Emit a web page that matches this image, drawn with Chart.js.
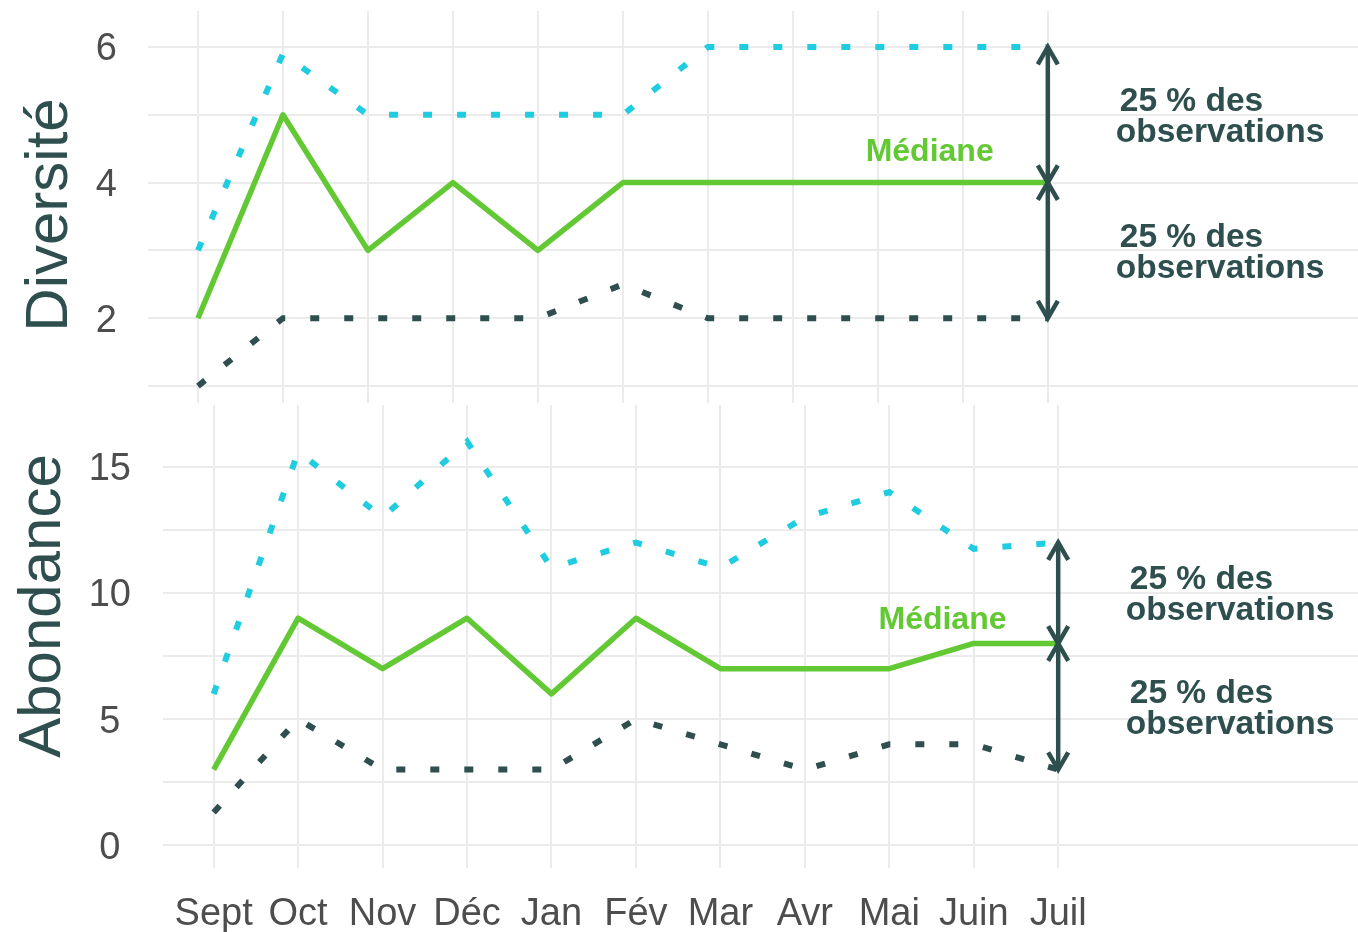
<!DOCTYPE html>
<html lang="fr">
<head>
<meta charset="utf-8">
<title>Diversité et abondance</title>
<script src="https://cdn.jsdelivr.net/npm/chart.js@4.4.1/dist/chart.umd.min.js"></script>
<style>
  html, body { margin: 0; padding: 0; background: #ffffff; }
  #wrap { position: relative; width: 1358px; height: 932px; }
  canvas { position: absolute; left: 0; }
  #diversiteChart { top: 0; }
  #abondanceChart { top: 405px; }
</style>
</head>
<body>
<div id="wrap">
  <canvas id="diversiteChart" width="1358" height="405"></canvas>
  <canvas id="abondanceChart" width="1358" height="527"></canvas>
</div>
<script>
// données
const mois = ['Sept', 'Oct', 'Nov', 'Déc', 'Jan', 'Fév', 'Mar', 'Avr', 'Mai', 'Juin', 'Juil'];

const diversiteMediane = [2, 5, 3, 4, 3, 4, 4, 4, 4, 4, 4];
const diversiteHaut = [3, 5.9, 5, 5, 5, 5, 6, 6, 6, 6, 6];
const diversiteBas = [1, 2, 2, 2, 2, 2.5, 2, 2, 2, 2, 2];
const diversiteTicks = [2, 4, 6];
const diversiteGrille = [1, 2, 3, 4, 5, 6];

const abondanceMediane = [3, 9, 7, 9, 6, 9, 7, 7, 7, 8, 8];
const abondanceHaut = [6, 15.6, 13, 16, 11, 12, 11, 13, 14, 11.75, 12];
const abondanceBas = [1.3, 5, 3, 3, 3, 5, 4, 3, 4, 4, 3];
const abondanceTicks = [0, 5, 10, 15];
const abondanceGrille = [0, 2.5, 5, 7.5, 10, 12.5, 15];

const vert = '#62C934';
const cyan = '#20CCDF';
const ardoise = '#2F4F4F';
const gris = '#4D4D4D';
const grille = '#EBEBEB';
const police = '"Liberation Sans", Arial, sans-serif';

Chart.defaults.font.family = police;

function points(values) {
  return values.map((v, i) => ({ x: i, y: v }));
}

function doubleFleche(ctx, x, y1, y2) {
  const L = 20;
  const dx = L * Math.sin(Math.PI / 6);
  const dy = L * Math.cos(Math.PI / 6);
  ctx.beginPath();
  ctx.moveTo(x, y1);
  ctx.lineTo(x, y2);
  ctx.stroke();
  [[y1, Math.sign(y2 - y1)], [y2, Math.sign(y1 - y2)]].forEach(([yt, d]) => {
    ctx.beginPath();
    ctx.moveTo(x - dx, yt + d * dy);
    ctx.lineTo(x, yt);
    ctx.lineTo(x + dx, yt + d * dy);
    ctx.stroke();
  });
}

function annotationsPlugin(cfg) {
  return {
    id: 'annotations',
    afterDatasetsDraw(chart) {
      const { ctx, scales: { x, y } } = chart;
      const i = mois.length - 1;
      const px = x.getPixelForValue(i);
      const yHaut = y.getPixelForValue(cfg.haut[i]);
      const yMed = y.getPixelForValue(cfg.med[i]);
      const yBas = y.getPixelForValue(cfg.bas[i]);

      ctx.save();
      ctx.strokeStyle = ardoise;
      ctx.lineWidth = 4.5;
      ctx.lineCap = 'butt';
      ctx.lineJoin = 'miter';
      doubleFleche(ctx, px, yHaut, yMed);
      doubleFleche(ctx, px, yMed, yBas);

      ctx.font = 'bold 33.5px ' + police;
      ctx.fillStyle = ardoise;
      ctx.textAlign = 'left';
      ctx.textBaseline = 'middle';
      const tx = x.getPixelForValue(i + 0.8);
      [[cfg.haut[i], cfg.med[i]], [cfg.med[i], cfg.bas[i]]].forEach(([a, b]) => {
        const cy = y.getPixelForValue((a + b) / 2) + 2.5;
        ctx.fillText('25 % des', tx + 4, cy - 15.5);
        ctx.fillText('observations', tx, cy + 15.5);
      });

      ctx.font = 'bold 32px ' + police;
      ctx.fillStyle = vert;
      ctx.textAlign = 'center';
      ctx.fillText('Médiane', x.getPixelForValue(cfg.medianeX), y.getPixelForValue(cfg.medianeY));

      // titre de l'axe y
      ctx.translate(cfg.titreX, cfg.titreY);
      ctx.rotate(-Math.PI / 2);
      ctx.font = '60px ' + police;
      ctx.fillStyle = ardoise;
      ctx.textBaseline = 'alphabetic';
      ctx.fillText(cfg.titre, 0, 0);
      ctx.restore();
    }
  };
}

function panneau(canvasId, cfg) {
  const ctx = document.getElementById(canvasId).getContext('2d');
  return new Chart(ctx, {
    type: 'line',
    data: {
      datasets: [
        {
          label: 'Médiane',
          data: points(cfg.med),
          borderColor: vert,
          borderWidth: 5.5,
          borderJoinStyle: 'round',
          borderCapStyle: 'butt',
          pointRadius: 0,
          tension: 0
        },
        {
          label: 'Quartile supérieur',
          data: points(cfg.haut),
          borderColor: cyan,
          borderWidth: 6,
          borderDash: [9, 25],
          borderCapStyle: 'butt',
          pointRadius: 0,
          tension: 0
        },
        {
          label: 'Quartile inférieur',
          data: points(cfg.bas),
          borderColor: ardoise,
          borderWidth: 6,
          borderDash: [9, 25],
          borderCapStyle: 'butt',
          pointRadius: 0,
          tension: 0
        }
      ]
    },
    options: {
      responsive: false,
      animation: false,
      events: [],
      layout: { padding: cfg.padding },
      scales: {
        x: {
          type: 'linear',
          min: cfg.xMin,
          max: cfg.xMax,
          afterBuildTicks: scale => { scale.ticks = mois.map((m, i) => ({ value: i })); },
          afterFit: scale => {
            scale.height = cfg.xHauteur;
            scale.paddingLeft = 0;
            scale.paddingRight = 0;
          },
          grid: { color: grille, lineWidth: 2, drawTicks: false },
          border: { display: false },
          ticks: {
            display: cfg.xLabels,
            autoSkip: false,
            maxRotation: 0,
            padding: 24,
            color: gris,
            font: { size: 38 },
            callback: value => mois[value]
          }
        },
        y: {
          type: 'linear',
          min: cfg.yMin,
          max: cfg.yMax,
          afterBuildTicks: scale => { scale.ticks = cfg.grille.map(v => ({ value: v })); },
          afterFit: scale => {
            scale.width = cfg.gauche;
            scale.paddingTop = 0;
            scale.paddingBottom = 0;
          },
          grid: { color: grille, lineWidth: 2, drawTicks: false },
          border: { display: false },
          ticks: {
            autoSkip: false,
            crossAlign: 'center',
            padding: cfg.yPadding,
            labelOffset: 3,
            color: gris,
            font: { size: 38 },
            callback: value => cfg.ticks.includes(value) ? value : ''
          }
        }
      },
      plugins: {
        legend: { display: false },
        tooltip: { enabled: false }
      }
    },
    plugins: [annotationsPlugin(cfg)]
  });
}

panneau('diversiteChart', {
  med: diversiteMediane,
  haut: diversiteHaut,
  bas: diversiteBas,
  ticks: diversiteTicks,
  grille: diversiteGrille,
  titre: 'Diversité',
  titreX: 67,
  titreY: 215,
  medianeX: 8.61,
  medianeY: 4.445,
  xMin: -0.588,
  xMax: 13.65,
  yMin: 0.75,
  yMax: 6.53,
  gauche: 148,
  yPadding: 31,
  xLabels: false,
  xHauteur: 0,
  padding: { top: 11, bottom: 2, left: 0, right: 0 }
});

panneau('abondanceChart', {
  med: abondanceMediane,
  haut: abondanceHaut,
  bas: abondanceBas,
  ticks: abondanceTicks,
  grille: abondanceGrille,
  titre: 'Abondance',
  titreX: 60,
  titreY: 201,
  medianeX: 8.63,
  medianeY: 8.93,
  xMin: -0.6,
  xMax: 13.55,
  yMin: -0.9,
  yMax: 17.45,
  gauche: 163,
  yPadding: 32,
  xLabels: true,
  xHauteur: 64,
  padding: { top: 0, bottom: 0, left: 0, right: 0 }
});
</script>
</body>
</html>
